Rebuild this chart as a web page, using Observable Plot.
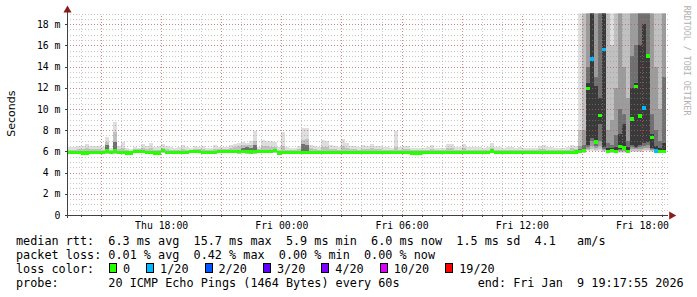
<!DOCTYPE html>
<html><head><meta charset="utf-8">
<script src="https://cdn.jsdelivr.net/npm/d3@7"></script>
<script src="https://cdn.jsdelivr.net/npm/@observablehq/plot@0.6"></script>
<style>
html,body{margin:0;padding:0;background:#fff;}
#wrap{position:relative;width:697px;height:297px;overflow:hidden;background:#fff;}
#chart svg{display:block;}
.ln{position:absolute;left:16px;font-family:"DejaVu Sans Mono",monospace;font-size:11.8px;line-height:14px;color:#000;white-space:pre;}
.sw{position:absolute;width:6px;height:8px;border:1px solid #000;top:263px;}
</style></head><body>
<div id="wrap"><div id="chart"></div><div id="legend"></div></div>
<script>
// time axis: hours since Thu 00:00, bins of 12 minutes
const T0 = 13.2, STEP = 0.2;
const xDomain = [13.3, 43.3];
const xTickHours = [18, 24, 30, 36, 42];
const xTickLabels = ["Thu 18:00", "Fri 00:00", "Fri 06:00", "Fri 12:00", "Fri 18:00"];
const yTickVals = [0, 2, 4, 6, 8, 10, 12, 14, 16, 18];
const yTickLabels = ["0", "2 m", "4 m", "6 m", "8 m", "10 m", "12 m", "14 m", "16 m", "18 m"];

// calm period (bins 0..127), values in ms
const calmMed = [
5.92,5.92,5.92,5.92,5.85,5.85,5.92,5.92,5.92,5.92,
6.05,5.92,6.05,5.92,5.92,5.85,5.85,6.0,6.0,6.0,
5.92,5.92,5.85,5.85,6.1,5.92,5.92,5.92,5.9,5.9,
5.9,6.0,6.0,6.0,5.87,5.87,5.87,5.87,6.0,6.0,
6.0,6.0,6.0,6.0,6.0,6.0,5.95,6.0,6.0,6.0,
6.0,6.0,6.1,5.85,5.92,5.92,5.9,5.9,5.9,5.9,
5.9,5.9,5.92,5.92,5.9,5.9,5.92,5.92,5.9,5.9,
5.92,5.92,5.9,5.9,5.92,5.92,5.9,5.92,5.92,5.9,
5.9,5.92,5.92,5.92,5.9,5.9,5.85,5.85,5.85,5.9,
5.92,5.92,5.9,5.9,5.92,5.87,5.87,5.92,5.92,5.9,
5.92,5.92,5.9,5.92,5.92,5.92,6.05,5.92,5.92,5.9,
5.92,5.92,5.92,5.9,5.92,5.92,5.92,5.9,5.92,5.92,
5.92,5.9,5.92,5.92,5.92,5.92,5.92,5.95];
const calmHi = [
6.4,6.4,6.4,6.5,6.5,6.7,6.5,6.5,6.5,6.4,
7.4,6.3,8.8,6.5,6.9,6.3,6.2,6.4,6.3,6.7,
6.5,6.8,6.4,6.5,6.7,6.5,6.4,6.3,6.4,6.6,
6.4,6.3,6.5,6.4,6.5,6.3,6.3,6.6,6.4,6.4,
6.4,6.6,6.7,6.8,6.9,6.8,7.0,7.9,6.4,7.1,
7.0,7.0,6.9,6.4,7.8,6.4,6.3,6.3,6.5,8.2,
8.2,6.6,6.5,6.4,7.1,7.0,6.6,6.5,6.4,7.2,
6.8,6.5,6.5,6.4,6.6,6.5,6.7,6.5,6.5,6.4,
6.4,6.3,7.9,6.4,6.5,6.5,6.3,6.3,6.3,6.3,
6.4,6.6,6.3,6.3,6.3,6.7,6.7,6.4,6.4,6.7,
6.4,6.4,6.4,6.4,6.3,6.4,6.8,6.4,6.4,6.3,
6.4,6.4,6.3,6.4,6.3,6.3,6.3,6.3,6.5,6.6,
6.4,6.4,6.3,6.3,6.3,6.4,6.6,6.5];
const calmMid = [
6.15,6.15,6.15,6.2,6.2,6.3,6.2,6.2,6.2,6.15,
6.9,6.1,7.85,6.2,6.3,6.1,6.05,6.2,6.2,6.3,
6.2,6.3,6.1,6.1,6.3,6.2,6.15,6.1,6.15,6.25,
6.15,6.1,6.2,6.2,6.2,6.1,6.1,6.2,6.2,6.2,
6.2,6.3,6.4,6.5,6.6,6.6,6.6,7.0,6.2,6.5,
6.5,6.4,6.4,6.1,6.5,6.15,6.1,6.1,6.2,7.1,
7.2,6.3,6.2,6.15,6.4,6.4,6.25,6.2,6.15,6.5,
6.3,6.2,6.2,6.15,6.25,6.2,6.3,6.2,6.2,6.15,
6.15,6.1,6.4,6.15,6.2,6.2,6.1,6.1,6.1,6.1,
6.15,6.25,6.1,6.1,6.1,6.3,6.3,6.15,6.15,6.3,
6.15,6.15,6.15,6.15,6.1,6.15,6.35,6.15,6.15,6.1,
6.15,6.15,6.1,6.15,6.1,6.1,6.1,6.1,6.2,6.25,
6.15,6.15,6.1,6.1,6.1,6.15,6.3,6.2];
const calmLo = [
5.8,5.8,5.78,5.8,5.75,5.75,5.8,5.8,5.8,5.78,
5.75,5.8,5.75,5.8,5.78,5.75,5.75,5.8,5.8,5.8,
5.8,5.78,5.75,5.75,5.8,5.8,5.8,5.78,5.8,5.8,
5.8,5.8,5.8,5.8,5.75,5.75,5.75,5.75,5.8,5.8,
5.8,5.8,5.8,5.78,5.8,5.78,5.75,5.78,5.8,5.8,
5.8,5.8,5.8,5.72,5.78,5.8,5.8,5.8,5.8,5.78,
5.78,5.8,5.8,5.8,5.78,5.8,5.8,5.8,5.8,5.78,
5.8,5.8,5.8,5.8,5.8,5.8,5.8,5.8,5.8,5.8,
5.8,5.8,5.78,5.8,5.8,5.8,5.75,5.75,5.75,5.8,
5.8,5.8,5.8,5.8,5.8,5.75,5.75,5.8,5.8,5.8,
5.8,5.8,5.8,5.8,5.8,5.8,5.8,5.8,5.8,5.8,
5.8,5.8,5.8,5.8,5.8,5.8,5.8,5.8,5.8,5.8,
5.8,5.8,5.8,5.8,5.8,5.8,5.8,5.78];
const darkBins = [10, 12, 44, 45, 46, 47, 59, 60];
const darkTops = [6.6, 6.9, 6.3, 6.4, 6.3, 6.6, 6.7, 6.6];

// disturbed period (bins 128..149)
const spikeMed  = [6.0,6.1,11.9,14.7,6.9,9.4,15.6,6.0,6.1,6.0,6.45,6.3,6.0,9.05,12.1,9.35,10.1,15.0,7.3,6.05,6.0,6.0];
const spikeLoss = [0,0,0,1,0,0,1,0,0,0,0,0,0,0,0,0,1,0,0,1,0,0];
const spikeU1 = [20,20,20,20,20,20,20,20,20,20,20,20,20,20,20,20,20,20,20,20,20,20];
const spikeU2 = [8,20,20,20,20,20,20,20,16,20,20,20,20,20,20,20,20,20,20,20,20,20];
const spikeU3 = [6.5,8,20,20,20,20,20,8,9,12,20,14,11,20,20,20,20,20,20,14,10,20];
const spikeU4 = [6.2,6.6,14,20,13,20,20,6.8,6.6,7.5,10,9.5,7,15,16,20,20,20,9.5,8,7,13];
const spikeU5 = [6.1,6.2,12.4,20,12.2,11.0,20,6.3,6.3,6.4,7.6,8.6,6.4,12.0,12.4,16.0,18.0,15.2,7.6,6.5,6.3,6.8];
const spikeD5 = [5.95,6.0,6.6,7.3,6.7,8.6,6.4,5.95,6.0,5.95,6.2,6.4,5.95,6.6,6.4,6.6,6.8,6.9,6.3,5.95,5.95,5.95];
const spikeD4 = [5.9,5.95,6.4,7.0,6.5,7.0,6.2,5.9,5.95,5.9,6.1,6.2,5.9,6.4,6.3,6.4,6.5,6.6,6.2,5.9,5.9,5.9];
const spikeD3 = [5.88,5.9,6.2,6.5,6.3,6.5,6.1,5.88,5.9,5.88,6.0,6.0,5.88,6.2,6.2,6.2,6.3,6.3,6.1,5.88,5.88,5.88];
const spikeD2 = [5.85,5.85,6.1,6.2,6.1,6.2,6.0,5.85,5.85,5.85,5.9,5.9,5.85,6.0,6.0,6.0,6.1,6.1,6.0,5.85,5.85,5.85];
const spikeD1 = [5.8,5.8,6.0,6.0,6.0,6.0,5.9,5.8,5.8,5.8,5.85,5.85,5.8,5.9,5.9,5.9,6.0,6.0,5.9,5.8,5.8,5.8];

const smokeColors = ["#dedede", "#c0c0c0", "#9c9c9c", "#707070", "#3a3a3a"];
const lossLabels = ["0", "1/20", "2/20", "3/20", "4/20", "10/20", "19/20"];
const lossColors = ["#26ff00", "#00b8ff", "#0059ff", "#5e00ff", "#7e00ff", "#dd00ff", "#ff0000"];

const rttStats = ["6.3", "15.7", "5.9", "6.0", "1.5", "4.1"];
const lossStats = ["0.01", "0.42", "0.00", "0.00"];
const probeText = "20 ICMP Echo Pings (1464 Bytes) every 60s";
const endText = "end: Fri Jan  9 19:17:55 2026";

// build tables
const smoke = [];
const meds = [];
calmHi.forEach((hi, i) => {
  const t = T0 + i * STEP;
  smoke.push({t, lo: calmLo[i], hi, level: 0});
  smoke.push({t, lo: calmLo[i], hi: calmMid[i], level: 1});
  meds.push({t, med: calmMed[i], loss: 0});
});
darkBins.forEach((b, k) => smoke.push({t: T0 + b * STEP, lo: calmMed[b], hi: darkTops[k], level: 3}));
const ups = [spikeU1, spikeU2, spikeU3, spikeU4, spikeU5];
const downs = [spikeD1, spikeD2, spikeD3, spikeD4, spikeD5];
spikeMed.forEach((m, j) => {
  const t = T0 + (calmMed.length + j) * STEP;
  for (let k = 0; k < 5; k++) smoke.push({t, lo: downs[k][j], hi: ups[k][j], level: k});
  meds.push({t, med: m, loss: spikeLoss[j]});
});
smoke.sort((a, b) => a.level - b.level);

const X0 = xDomain[0], X1 = xDomain[1];
const hours = d3.range(14, 44);
const majorHours = hours.filter(h => h % 3 === 0);
const minorY = d3.range(0.5, 19.01, 0.5);
const majorY = yTickVals.filter(v => v > 0);
const HALF = 0.16; // half thickness of the median marker, in ms

const mono = "DejaVu Sans Mono";
const chart = Plot.plot({
  width: 697, height: 232,
  marginLeft: 67, marginRight: 29, marginTop: 13.5, marginBottom: 17,
  x: {domain: xDomain, axis: null},
  y: {domain: [0, 19], axis: null},
  color: {type: "identity"},
  style: {background: "white", overflow: "visible"},
  marks: [
    Plot.rect(smoke, {x1: "t", x2: d => d.t + STEP, y1: "lo", y2: "hi", fill: d => smokeColors[d.level], clip: true, shapeRendering: "crispEdges"}),
    Plot.ruleX(hours, {y1: 0, y2: 19, stroke: "#8f8f8f", strokeOpacity: 0.5, strokeDasharray: "1,2", shapeRendering: "crispEdges"}),
    Plot.ruleY(minorY, {x1: X0, x2: X1, stroke: "#8f8f8f", strokeOpacity: 0.5, strokeDasharray: "1,2", shapeRendering: "crispEdges"}),
    Plot.ruleX(majorHours, {y1: 0, y2: 19, stroke: "#e03030", strokeOpacity: 0.45, strokeDasharray: "1,2", shapeRendering: "crispEdges"}),
    Plot.ruleY(majorY, {x1: X0, x2: X1, stroke: "#e03030", strokeOpacity: 0.45, strokeDasharray: "1,2", shapeRendering: "crispEdges"}),
    Plot.rect(meds, {x1: "t", x2: d => d.t + STEP, y1: d => d.med - HALF, y2: d => d.med + HALF, fill: d => lossColors[d.loss], clip: true, shapeRendering: "crispEdges"}),
    // axes
    Plot.ruleX(hours, {y1: -0.2, y2: 0, stroke: "#404040", shapeRendering: "crispEdges"}),
    Plot.ruleY(yTickVals, {x1: X0 - 0.1, x2: X0, stroke: "#404040", shapeRendering: "crispEdges"}),
    Plot.ruleY([0], {x1: X0 - 0.1, x2: X1, stroke: "#404040", shapeRendering: "crispEdges"}),
    Plot.ruleX([X0], {y1: -0.3, y2: 19.2, stroke: "#404040", shapeRendering: "crispEdges"}),
    Plot.dot([0], {x: () => X0, y: () => 19.35, symbol: "triangle", r: 3, fill: "#8b1a1a"}),
    Plot.dot([0], {x: () => X1 + 0.15, y: () => 0, symbol: "triangle", r: 3, fill: "#8b1a1a", rotate: 90}),
    Plot.text(yTickVals, {x: () => X0, y: d => d, dx: -7, text: (d, i) => yTickLabels[i], textAnchor: "end", fontFamily: mono, fontSize: 9.8, fill: "#000"}),
    Plot.text(xTickHours, {x: d => d, y: () => 0, dy: 10, text: (d, i) => xTickLabels[i], fontFamily: mono, fontSize: 9.8, fill: "#000"}),
    Plot.text(["Seconds"], {x: () => X0 - 2.8, y: () => 9.6, text: d => d, rotate: -90, fontFamily: "DejaVu Sans", fontSize: 11, fill: "#000"}),
    Plot.text(["RRDTOOL / TOBI OETIKER"], {x: () => X1 + 0.9, y: () => 14.6, text: d => d, rotate: 90, fontFamily: mono, fontSize: 8.3, fill: "#b0b0b0"})
  ]
});
document.getElementById("chart").appendChild(chart);

// legend text below the SVG
const leg = document.getElementById("legend");
function line(txt, top) {
  const d = document.createElement("div");
  d.className = "ln"; d.style.top = top + "px"; d.textContent = txt;
  leg.appendChild(d);
}
line(`median rtt:  ${rttStats[0]} ms avg  ${rttStats[1]} ms max  ${rttStats[2]} ms min  ${rttStats[3]} ms now  ${rttStats[4]} ms sd  ${rttStats[5]}   am/s`, 234);
line(`packet loss: ${lossStats[0]} % avg  ${lossStats[1]} % max  ${lossStats[2]} % min  ${lossStats[3]} % now`, 248);
line("loss color:", 262);
line(`probe:       ${probeText}           ${endText}`, 276);
let sx = 109;
lossLabels.forEach((lab, i) => {
  const s = document.createElement("div");
  s.className = "sw"; s.style.left = sx + "px"; s.style.background = lossColors[i];
  leg.appendChild(s);
  const t = document.createElement("div");
  t.className = "ln"; t.style.left = (sx + 14) + "px"; t.style.top = "262px"; t.textContent = lab;
  leg.appendChild(t);
  sx = sx + 14 + lab.length * 7.1 + 16;
});
</script>
</body></html>
